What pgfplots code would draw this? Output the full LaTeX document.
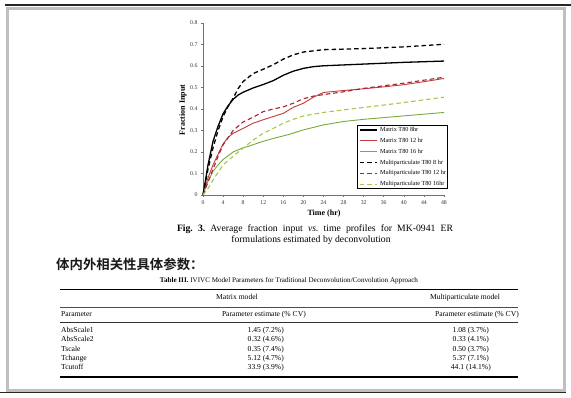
\documentclass[border=0pt]{standalone}
\usepackage{pgfplots}
\pgfplotsset{compat=1.18}
\usepackage{fontspec}
\setmainfont{Liberation Serif}
\newfontfamily\cjk{Noto Sans CJK SC}[BoldFont={Noto Sans CJK SC Bold}]
\definecolor{redsolid}{RGB}{190,60,60}
\definecolor{reddash}{RGB}{165,35,50}
\definecolor{greensolid}{RGB}{120,170,60}
\definecolor{greendash}{RGB}{170,200,70}
\frenchspacing
\begin{document}
\begin{tikzpicture}
\path[use as bounding box] (0pt,0pt) rectangle (571pt,-397pt);
\fill[white] (0pt,0pt) rectangle (571pt,-397pt);
% frame
\draw[black!85, line width=2pt] (5pt,-4.5pt) -- (571pt,-4.5pt);
\draw[black!25, line width=3pt] (7pt,-8pt) rectangle (564.5pt,-390pt);
\draw[black!85, line width=1.2pt] (0pt,-392.5pt) -- (566pt,-392.5pt);

\begin{axis}[
  at={(203pt,-195pt)}, anchor=south west,
  scale only axis, width=241pt, height=172pt,
  xmin=0, xmax=48, ymin=0, ymax=0.8,
  xtick={0,4,...,48},
  ytick={0,0.1,0.2,0.3,0.4,0.5,0.6,0.7,0.8},
  yticklabels={0,0.1,0.2,0.3,0.4,0.5,0.6,0.7,0.8},
  axis lines=left,
  axis line style={-, black!55, line width=0.6pt},
  tick style={black!55, line width=0.5pt},
  tick align=outside, major tick length=2pt,
  /pgf/number format/assume math mode=true,
  ticklabel style={font=\fontsize{5.8}{6}\selectfont, text=black!80},
  legend style={at={(rel axis cs:0.639,0.407)}, anchor=north west,
    draw=black, line width=1.2pt, fill=white,
    font=\fontsize{6.2}{6.5}\selectfont, inner sep=1.6pt, row sep=5pt,
    nodes={inner sep=0pt, text height=4.4pt, text depth=1.4pt},
    /tikz/every odd column/.append style={column sep=2.5pt}},
  legend cell align=left,
  clip=false,
]
\addplot[black, line width=1.3pt] coordinates {(0,0) (0.5,0.07) (1,0.14) (2,0.25) (3,0.32) (4,0.378) (5,0.415) (6,0.445) (7,0.465) (8,0.478) (10,0.498) (12,0.514) (14,0.532) (16,0.557) (18,0.576) (20,0.589) (22,0.597) (24,0.601) (28,0.605) (32,0.609) (36,0.613) (40,0.617) (44,0.620) (48,0.623)};
\addlegendentry{Matrix T80 8hr}
\addplot[redsolid, line width=0.9pt] coordinates {(0,0) (1,0.08) (2,0.14) (3,0.19) (4,0.238) (5,0.268) (6,0.287) (8,0.31) (10,0.334) (12,0.35) (14,0.365) (16,0.38) (18,0.408) (20,0.427) (22,0.455) (24,0.477) (28,0.486) (32,0.494) (36,0.503) (40,0.513) (44,0.527) (48,0.542)};
\addlegendentry{Matrix T80 12 hr}
\addplot[greensolid, line width=0.9pt] coordinates {(0,0) (1,0.065) (2,0.11) (3,0.14) (4,0.165) (6,0.2) (8,0.22) (9,0.226) (10,0.234) (12,0.25) (14,0.263) (16,0.275) (17,0.281) (20,0.303) (24,0.326) (28,0.342) (32,0.352) (36,0.36) (40,0.368) (44,0.376) (48,0.384)};
\addlegendentry{Matrix T80 16 hr}
\addplot[black, line width=1.3pt, dash pattern=on 4.5pt off 3pt] coordinates {(0,0) (1,0.12) (2,0.22) (3,0.30) (4,0.365) (5,0.412) (6,0.45) (7,0.495) (8,0.528) (10,0.565) (12,0.585) (14,0.606) (16,0.632) (18,0.652) (20,0.665) (24,0.676) (32,0.681) (40,0.689) (48,0.701)};
\addlegendentry{Multiparticulate T80 8 hr}
\addplot[reddash, line width=1.1pt, dash pattern=on 4.5pt off 3pt] coordinates {(0,0) (1,0.06) (2,0.12) (3,0.18) (4,0.233) (6,0.30) (8,0.34) (10,0.362) (12,0.388) (14,0.40) (16,0.41) (18,0.427) (20,0.448) (22,0.46) (24,0.467) (28,0.48) (32,0.496) (40,0.52) (48,0.548)};
\addlegendentry{Multiparticulate T80 12 hr}
\addplot[greendash, line width=1.1pt, dash pattern=on 4.5pt off 3pt] coordinates {(0,0) (1,0.03) (2,0.07) (3,0.105) (4,0.14) (6,0.18) (8,0.218) (10,0.256) (12,0.287) (14,0.31) (16,0.334) (18,0.352) (20,0.368) (24,0.384) (28,0.396) (32,0.407) (40,0.43) (48,0.455)};
\addlegendentry{Multiparticulate T80 16hr}
\end{axis}

% axis labels
\node[rotate=90, font=\fontsize{8}{9}\selectfont\bfseries] at (183pt,-110pt) {Fraction Input};
\node[font=\fontsize{8}{9}\selectfont\bfseries] at (324pt,-213.5pt) {Time (hr)};

% caption
\node[font=\fontsize{9.7}{10}\selectfont, inner sep=0pt] at (315pt,-229pt) {\makebox[276pt][s]{\textbf{Fig. 3.} Average fraction input \textit{vs.} time profiles for MK-0941 ER}};
\node[font=\fontsize{9.7}{10}\selectfont, inner sep=0pt] at (311pt,-240pt) {formulations estimated by deconvolution};

% Chinese heading
\node[anchor=west, inner sep=0pt, text=black!90] at (56pt,-264pt) {\cjk\bfseries\fontsize{13.4}{14}\selectfont 体内外相关性具体参数：};

% table
\begin{scope}[every node/.style={font=\fontsize{7.6}{8}\selectfont, inner sep=0pt, text height=5.2pt, text depth=1.6pt}]
\node[font=\fontsize{7.1}{8}\selectfont] at (289pt,-281pt) {\textbf{Table III.} IVIVC Model Parameters for Traditional Deconvolution/Convolution Approach};
\draw[black, line width=1.6pt] (60pt,-289.5pt) -- (518pt,-289.5pt);
\node at (237pt,-298pt) {Matrix model};
\node at (465pt,-298pt) {Multiparticulate model};
\draw[black!70, line width=0.9pt] (60pt,-307pt) -- (518pt,-307pt);
\node[anchor=west] at (61pt,-315pt) {Parameter};
\node[anchor=east] at (306pt,-315pt) {Parameter estimate (\% CV)};
\node[anchor=east] at (519pt,-315pt) {Parameter estimate (\% CV)};
\draw[black!80, line width=1.5pt] (60pt,-322.5pt) -- (518pt,-322.5pt);
\node[anchor=west] at (61pt,-331pt) {AbsScale1};
\node[anchor=west] at (61pt,-340pt) {AbsScale2};
\node[anchor=west] at (61pt,-349.3pt) {Tscale};
\node[anchor=west] at (61pt,-358.5pt) {Tchange};
\node[anchor=west] at (61pt,-367.5pt) {Tcutoff};
\node[anchor=east] at (284pt,-331pt) {1.45 (7.2\%)};
\node[anchor=east] at (284pt,-340pt) {0.32 (4.6\%)};
\node[anchor=east] at (284pt,-349.3pt) {0.35 (7.4\%)};
\node[anchor=east] at (284pt,-358.5pt) {5.12 (4.7\%)};
\node[anchor=east] at (284pt,-367.5pt) {33.9 (3.9\%)};
\node[anchor=east] at (489pt,-331pt) {1.08 (3.7\%)};
\node[anchor=east] at (489pt,-340pt) {0.33 (4.1\%)};
\node[anchor=east] at (489pt,-349.3pt) {0.50 (3.7\%)};
\node[anchor=east] at (489pt,-358.5pt) {5.37 (7.1\%)};
\node[anchor=east] at (491pt,-367.5pt) {44.1 (14.1\%)};
\draw[black, line width=2pt] (60pt,-376.5pt) -- (518pt,-376.5pt);
\end{scope}
\end{tikzpicture}
\end{document}
